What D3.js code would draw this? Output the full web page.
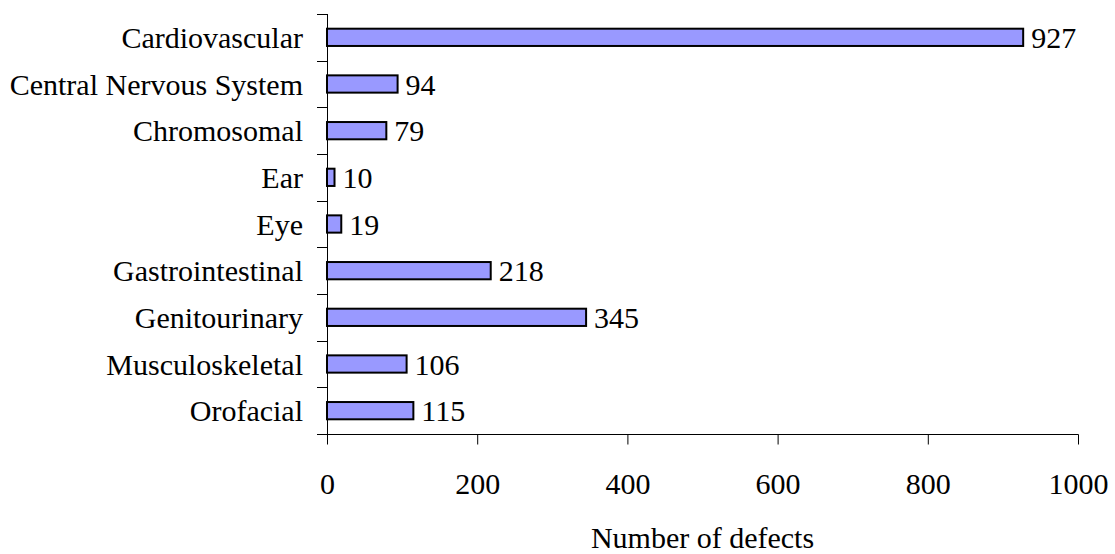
<!DOCTYPE html>
<html>
<head>
<meta charset="utf-8">
<script src="https://cdn.jsdelivr.net/npm/d3@7"></script>
<style>
  html, body { margin: 0; padding: 0; background: #fff; }
  svg { display: block; }
  text { font-family: "Liberation Serif", "Times New Roman", serif; fill: #000; }
</style>
</head>
<body>
<svg id="chart" width="1115" height="554"></svg>
<script>
// Birth defects by organ system
const categories = ["Cardiovascular", "Central Nervous System", "Chromosomal", "Ear", "Eye",
                    "Gastrointestinal", "Genitourinary", "Musculoskeletal", "Orofacial"];
const counts = [927, 94, 79, 10, 19, 218, 345, 106, 115];
const xTicks = [0, 200, 400, 600, 800, 1000];
const xTitle = "Number of defects";

const svg = d3.select("#chart");
const plotLeft = 327, plotRight = 1078, plotTop = 14, plotBottom = 434;
const fontSize = 30;

const x = d3.scaleLinear().domain([0, 1000]).range([plotLeft, plotRight]);
const y = d3.scaleBand().domain(categories).range([plotTop, plotBottom]).padding(0);
const barH = y.bandwidth() * 0.37;

// bars
svg.append("g").selectAll("rect")
  .data(categories)
  .join("rect")
  .attr("x", x(0))
  .attr("y", (d) => y(d) + y.bandwidth() / 2 - barH / 2)
  .attr("width", (d, i) => x(counts[i]) - x(0))
  .attr("height", barH)
  .attr("fill", "#9999ff")
  .attr("stroke", "#000")
  .attr("stroke-width", 2);

// value labels
svg.append("g").selectAll("text")
  .data(categories)
  .join("text")
  .attr("x", (d, i) => x(counts[i]) + 8)
  .attr("y", (d) => y(d) + y.bandwidth() / 2)
  .attr("dy", "0.35em")
  .attr("font-size", fontSize)
  .text((d, i) => counts[i]);

// category axis: ticks at band boundaries
const yAxis = svg.append("g");
yAxis.append("line")
  .attr("x1", plotLeft + 0.5).attr("x2", plotLeft + 0.5)
  .attr("y1", plotTop).attr("y2", plotBottom)
  .attr("stroke", "#000");
const bounds = categories.map((d) => y(d)).concat([plotBottom]);
yAxis.selectAll("line.tick")
  .data(bounds)
  .join("line")
  .attr("class", "tick")
  .attr("x1", plotLeft - 10).attr("x2", plotLeft)
  .attr("y1", (d) => Math.round(d) + 0.5).attr("y2", (d) => Math.round(d) + 0.5)
  .attr("stroke", "#000");
yAxis.selectAll("text")
  .data(categories)
  .join("text")
  .attr("x", plotLeft - 24)
  .attr("y", (d) => y(d) + y.bandwidth() / 2)
  .attr("dy", "0.35em")
  .attr("text-anchor", "end")
  .attr("font-size", fontSize)
  .text((d) => d);

// value axis
const xAxis = svg.append("g")
  .attr("transform", `translate(0,${plotBottom + 0.5})`)
  .call(d3.axisBottom(x).tickValues(xTicks).tickSize(10).tickPadding(0).tickFormat(d3.format("d")));
xAxis.select(".domain").remove();
xAxis.append("line")
  .attr("x1", plotLeft - 10).attr("x2", plotRight + 0.5)
  .attr("y1", 0).attr("y2", 0)
  .attr("stroke", "#000");
xAxis.selectAll(".tick line").attr("stroke", "#000");
xAxis.selectAll(".tick text")
  .attr("font-size", fontSize)
  .attr("font-family", "Liberation Serif, Times New Roman, serif")
  .attr("fill", "#000")
  .attr("dy", null)
  .attr("y", 59);

// axis title
svg.append("text")
  .attr("x", (plotLeft + plotRight) / 2)
  .attr("y", 548)
  .attr("text-anchor", "middle")
  .attr("font-size", fontSize)
  .text(xTitle);
</script>
</body>
</html>
